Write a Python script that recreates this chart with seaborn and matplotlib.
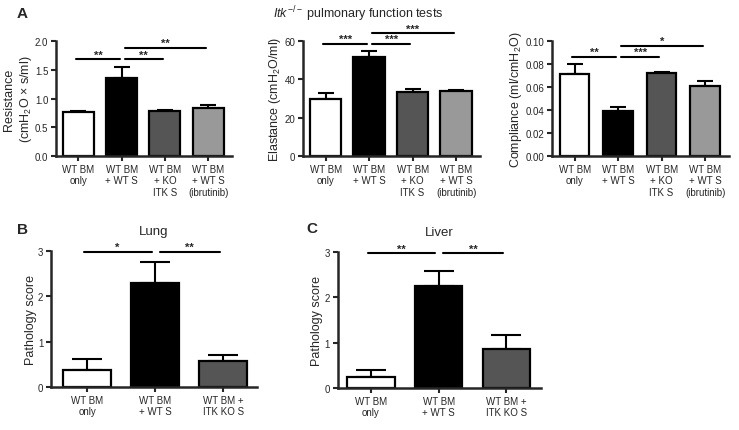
import numpy as np
import pandas as pd
import matplotlib
matplotlib.use("Agg")
import matplotlib.pyplot as plt
import seaborn as sns

# ==================== DATA ====================

top_groups = ["WT BM\nonly", "WT BM\n+ WT S", "WT BM\n+ KO\nITK S", "WT BM\n+ WT S\n(ibrutinib)"]
top_colors = ["#ffffff", "#000000", "#555555", "#999999"]

resistance_mean = [0.76, 1.35, 0.78, 0.84]
resistance_sem = [0.02, 0.20, 0.02, 0.05]

elastance_mean = [30.0, 51.5, 33.5, 34.0]
elastance_sem = [2.8, 3.5, 1.5, 0.6]

compliance_mean = [0.071, 0.039, 0.072, 0.061]
compliance_sem = [0.009, 0.0035, 0.001, 0.004]

bottom_groups = ["WT BM\nonly", "WT BM\n+ WT S", "WT BM +\nITK KO S"]
bottom_colors = ["#ffffff", "#000000", "#555555"]

lung_mean = [0.38, 2.30, 0.57]
lung_sem = [0.23, 0.46, 0.14]

liver_mean = [0.25, 2.25, 0.87]
liver_sem = [0.14, 0.32, 0.31]

# significance: (start group, end group, height, label)
resistance_sig = [(0, 1, 1.68, "**"), (1, 2, 1.68, "**"), (1, 3, 1.88, "**")]
elastance_sig = [(0, 1, 58.3, "***"), (1, 2, 58.3, "***"), (1, 3, 64.0, "***")]
compliance_sig = [(0, 1, 0.086, "**"), (1, 2, 0.086, "***"), (1, 3, 0.0957, "*")]
lung_sig = [(0, 1, 2.97, "*"), (1, 2, 2.97, "**")]
liver_sig = [(0, 1, 2.97, "**"), (1, 2, 2.97, "**")]

# ==================== STYLE ====================

sns.set_style("ticks")
plt.rcParams["font.family"] = ["Liberation Sans", "DejaVu Sans"]
plt.rcParams["mathtext.fontset"] = "custom"
plt.rcParams["mathtext.rm"] = "Liberation Sans"
plt.rcParams["mathtext.it"] = "Liberation Sans:italic"
plt.rcParams["axes.linewidth"] = 1.8
plt.rcParams["xtick.major.width"] = 1.5
plt.rcParams["ytick.major.width"] = 1.5
plt.rcParams["xtick.major.size"] = 3.5
plt.rcParams["ytick.major.size"] = 3.5


def bar_panel(ax, groups, colors, means, sems, ylim, yticks, ylabel, sig,
              xlim, width, capsize, fmt=None):
    df = pd.DataFrame({"group": groups, "value": means})
    sns.barplot(data=df, x="group", y="value", hue="group", palette=colors,
                legend=False, edgecolor="black", linewidth=1.6, width=width,
                errorbar=None, ax=ax, zorder=2)
    x = np.arange(len(groups))
    ax.errorbar(x, means, yerr=[np.zeros(len(sems)), sems], fmt="none",
                ecolor="black", elinewidth=1.5, capsize=capsize,
                capthick=1.5, zorder=1)
    ax.set_xlim(*xlim)
    ax.set_ylim(*ylim)
    ax.set_yticks(yticks)
    if fmt:
        ax.set_yticklabels([fmt.format(t) for t in yticks])
    ax.set_xlabel("")
    ax.set_ylabel(ylabel, fontsize=9, labelpad=1)
    ax.tick_params(axis="both", labelsize=7, pad=2)
    sns.despine(ax=ax)
    ax.spines["left"].set_bounds(ylim[0], ylim[1])
    for a, b, h, lab in sig:
        x0 = a + (0.07 if a > 0 else -0.05)
        x1 = b - 0.05
        ax.plot([x0, x1], [h, h], color="black", lw=1.5, clip_on=False)
        ax.text((x0 + x1) / 2, h, lab, ha="center", va="bottom",
                fontsize=8, fontweight="bold")


fig = plt.figure(figsize=(7.39, 4.31), dpi=100)

ax1 = fig.add_axes([0.0758, 0.6357, 0.238, 0.2668])
ax2 = fig.add_axes([0.410, 0.6357, 0.2395, 0.2668])
ax3 = fig.add_axes([0.747, 0.6357, 0.2395, 0.2668])
ax4 = fig.add_axes([0.069, 0.0998, 0.279, 0.3156])
ax5 = fig.add_axes([0.457, 0.0974, 0.275, 0.3156])

top_xlim = (-0.52, 3.55)
bar_panel(ax1, top_groups, top_colors, resistance_mean, resistance_sem,
          (0, 2.0), [0, 0.5, 1.0, 1.5, 2.0],
          "Resistance\n(cmH$_2$O × s/ml)", resistance_sig, top_xlim, 0.72, 5.5,
          fmt="{:.1f}")
bar_panel(ax2, top_groups, top_colors, elastance_mean, elastance_sem,
          (0, 60), [0, 20, 40, 60],
          "Elastance (cmH$_2$O/ml)", elastance_sig, top_xlim, 0.72, 5.5)
bar_panel(ax3, top_groups, top_colors, compliance_mean, compliance_sem,
          (0, 0.10), [0, 0.02, 0.04, 0.06, 0.08, 0.10],
          "Compliance (ml/cmH$_2$O)", compliance_sig, top_xlim, 0.68, 5.5,
          fmt="{:.2f}")
bar_panel(ax4, bottom_groups, bottom_colors, lung_mean, lung_sem,
          (0, 3), [0, 1, 2, 3], "Pathology score", lung_sig,
          (-0.53, 2.5), 0.7, 11)
bar_panel(ax5, bottom_groups, bottom_colors, liver_mean, liver_sem,
          (0, 3), [0, 1, 2, 3], "Pathology score", liver_sig,
          (-0.49, 2.51), 0.7, 11)

ax4.set_title("Lung", fontsize=9.5, pad=12)
ax5.set_title("Liver", fontsize=9.5, pad=12)

fig.text(0.485, 0.968, r"$\mathit{Itk}^{-/-}$ pulmonary function tests",
         ha="center", va="center", fontsize=9)
fig.text(0.03, 0.968, "A", fontsize=11, fontweight="bold", ha="center", va="center")
fig.text(0.03, 0.466, "B", fontsize=11, fontweight="bold", ha="center", va="center")
fig.text(0.422, 0.468, "C", fontsize=11, fontweight="bold", ha="center", va="center")

fig.savefig("out.png", dpi=100)
